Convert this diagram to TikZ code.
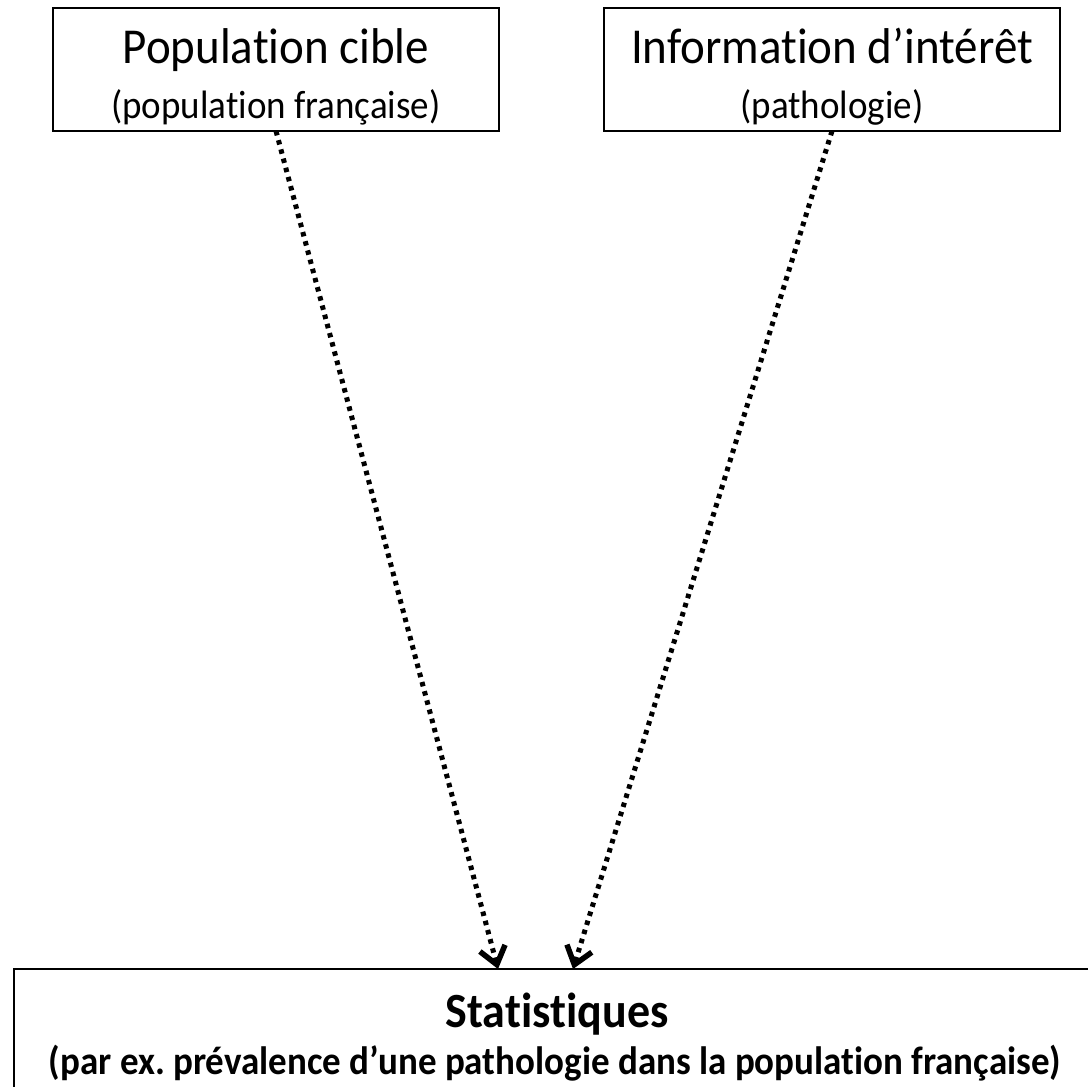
\documentclass[tikz,border=0pt]{standalone}
\usepackage{fontspec}
\setmainfont{Carlito}[Ligatures=CommonOff]
\usetikzlibrary{arrows.meta}
\frenchspacing
% glyphs in this figure are set slightly taller than wide
\newcommand{\tallset}[1]{\scalebox{1}[1.07]{#1}}
\begin{document}
\begin{tikzpicture}[x=1pt,y=-1pt,
  box/.style={draw=black, line width=2pt, fill=white, inner sep=0pt, outer sep=0pt},
  headtext/.style={anchor=base, inner sep=0pt, font=\fontsize{47}{56}\selectfont},
  subtext/.style={anchor=base, inner sep=0pt, font=\fontsize{37}{44}\selectfont},
  stathead/.style={anchor=base, inner sep=0pt, font=\bfseries\fontsize{46}{55}\selectfont},
  statsub/.style={anchor=base, inner sep=0pt, font=\bfseries\fontsize{37}{44}\selectfont},
  flow/.style={line width=5pt, dash pattern=on 4.5pt off 5pt,
    -{Straight Barb[length=17pt, width=26pt, line width=5.5pt]}}]
  \useasboundingbox (0,0) rectangle (1088,1087);

  % source boxes
  \node[box, minimum width=446pt, minimum height=123pt] (pop) at (276,69.5) {};
  \node[headtext] (popT) at (276,63) {\tallset{Population cible}};
  \node[subtext] (popS) at (276,118) {\tallset{(population française)}};

  \node[box, minimum width=456pt, minimum height=123pt] (info) at (832,69.5) {};
  \node[headtext] (infoT) at (832,63) {\tallset{Information d’intérêt}};
  \node[subtext] (infoS) at (832,118) {\tallset{(pathologie)}};

  % result box, running past the right and bottom edges
  \node[box, minimum width=1082pt, minimum height=140pt] (stat) at (555,1039) {};
  \node[stathead] (statT) at (557,1027) {\tallset{Statistiques}};
  \node[statsub] (statS) at (555,1074) {\tallset{(par ex. prévalence d’une pathologie dans la population française)}};

  % dotted flows
  \draw[flow] (pop.south) -- ([xshift=-57pt]stat.north);
  \draw[flow] (info.south) -- ([xshift=18pt]stat.north);
\end{tikzpicture}
\end{document}
